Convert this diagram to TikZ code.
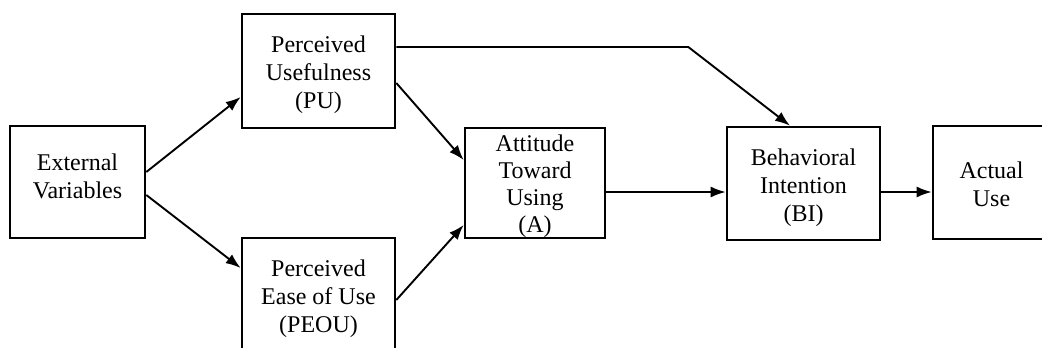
\documentclass[tikz,border=0pt]{standalone}
\usepackage{fontspec}
\setmainfont{Liberation Serif}
\usetikzlibrary{arrows.meta}
\begin{document}
\begin{tikzpicture}[x=1pt,y=-1pt,
  box/.style={draw,line width=2.6pt,rectangle,inner sep=0pt,
              minimum width=#1},
  lbl/.style={align=center,inner sep=0pt,font=\fontsize{24}{28}\selectfont},
  link/.style={line width=1.9pt,-{Latex[length=15pt,width=11pt]}}]
\useasboundingbox (0,0) rectangle (1042,348);

% boxes
\node[box=135pt,minimum height=112pt] (ev)   at (77.5,182)   {};
\node[box=153pt,minimum height=114pt] (pu)   at (318.5,71)   {};
\node[box=153pt,minimum height=122pt] (peou) at (318.5,299)  {};
\node[box=140pt,minimum height=110pt] (att)  at (535,183)    {};
\node[box=153pt,minimum height=113pt] (bi)   at (803.5,183.5){};
\node[box=117pt,minimum height=113pt] (au)   at (991.5,182.5){};

% labels
\node[lbl] (evt)   at ([yshift=6pt]ev.center)    {External\\Variables};
\node[lbl] (put)   at ([yshift=-4pt]pu.center)   {Perceived\\Usefulness\\(PU)};
\node[lbl] (peout) at (peou.center)              {Perceived\\Ease of Use\\(PEOU)};
\node[lbl,font=\fontsize{24}{27}\selectfont] (attt) at ([yshift=-3pt]att.center)
  {Attitude\\Toward\\Using\\(A)};
\node[lbl] (bit)   at ([yshift=-4.5pt]bi.center) {Behavioral\\Intention\\(BI)};
\node[lbl] (aut)   at ([yshift=-2pt]au.center)   {Actual\\Use};

% connectors
\draw[link] ([yshift=10pt]ev.east)   -- ([yshift=-26pt]pu.west);
\draw[link] ([yshift=-13pt]ev.east)  -- ([yshift=31pt]peou.west);
\draw[link] ([yshift=-12pt]pu.east)  -- ([yshift=23pt]att.west);
\draw[link] ([yshift=-1pt]peou.east) -- ([yshift=-42pt]att.west);
\coordinate (ab) at ([yshift=-9pt]att.east);
\draw[link] (ab) -- (ab -| bi.west);
\coordinate (bu) at ([yshift=-8.5pt]bi.east);
\draw[link] (bu) -- (bu -| au.west);
\coordinate (pub) at ([yshift=24pt]pu.east);
\draw[link] (pub) -- ++(292,0) -- ([xshift=-13.5pt]bi.north);
\end{tikzpicture}
\end{document}
